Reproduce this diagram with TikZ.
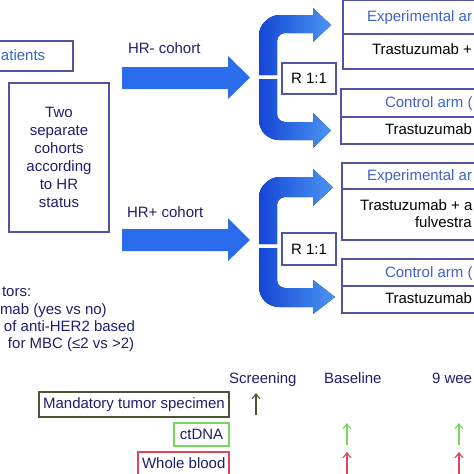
\documentclass[tikz,border=0pt]{standalone}
\usepackage{fontspec}
\setmainfont{Liberation Sans}
\usetikzlibrary{arrows.meta}
\definecolor{boxline}{HTML}{5353A3}
\definecolor{headblue}{HTML}{3F62C9}
\definecolor{navy}{HTML}{1E1E6E}
\definecolor{arrowblue}{HTML}{2A6CEB}
\definecolor{cdark}{HTML}{1446D6}
\definecolor{clight}{HTML}{4A95F2}
\definecolor{olive}{HTML}{4B5533}
\definecolor{tgreen}{HTML}{77D65C}
\definecolor{tred}{HTML}{E0455E}
\begin{document}
\begin{tikzpicture}[x=1pt,y=-1pt,
  every node/.style={inner sep=0pt,outer sep=0pt,font=\fontsize{15pt}{18pt}\selectfont},
  frame/.style={draw=boxline,line width=1.2pt},
  txt/.style={anchor=base west,text=navy},
  head/.style={anchor=base west,text=headblue},
  body/.style={anchor=base west,text=black},
  blockarrow/.style={fill=arrowblue},
  cshade/.style={left color=cdark,right color=clight},
  tick/.style={line width=1.1pt,-{Straight Barb[length=5pt,width=8pt]}}]
\useasboundingbox (0,0) rectangle (474,474);
\clip (0,0) rectangle (474,474);

% patients box (cropped)
\node[frame,anchor=north west,minimum width=80pt,minimum height=30pt] (patbox) at (-7,41) {};
\node[anchor=base west,text=headblue] (pat) at (1,60) {atients};

% two cohorts box
\node[frame,minimum width=100pt,minimum height=149pt,align=center,text=navy] (cohorts) at (59,157.5)
  {Two\\separate\\cohorts\\according\\to HR\\status};

% cohort labels
\node[txt] (hrneg) at (128,53) {HR- cohort};
\node[txt] (hrpos) at (127,217) {HR+ cohort};

% flat arrows
\fill[blockarrow] (122,67) -- (228,67) -- (228,56) -- (250,77.5) -- (228,99) -- (228,89) -- (122,89) -- cycle;
\fill[blockarrow] (122,229) -- (228,229) -- (228,218) -- (250,240) -- (228,261) -- (228,251) -- (122,251) -- cycle;

% C-shaped split arrows, HR- cohort
\fill[cshade] (259,75) -- (259,35) .. controls (259,23.96) and (270.04,15) .. (279,15) -- (313,15) -- (313,8) -- (331,25) -- (313,42) -- (313,33) -- (285,33) .. controls (280.6,33) and (277,36.6) .. (277,41) -- (277,75) -- cycle;
\fill[cshade] (259,79) -- (259,120) .. controls (259,131.04) and (267.96,140) .. (279,140) -- (313,140) -- (313,148) -- (331,130.5) -- (313,113) -- (313,122) -- (285,122) .. controls (280.6,122) and (277,118.4) .. (277,114) -- (277,79) -- cycle;
% C-shaped split arrows, HR+ cohort
\fill[cshade] (259,244) -- (259,197) .. controls (259,185.96) and (270.04,177) .. (279,177) -- (313,177) -- (313,169) -- (333,187.5) -- (313,206) -- (313,197) -- (285,197) .. controls (280.6,197) and (277,200.6) .. (277,205) -- (277,244) -- cycle;
\fill[cshade] (259,248) -- (259,287) .. controls (259,298.04) and (267.96,307) .. (279,307) -- (313,307) -- (313,314) -- (335,297) -- (313,280) -- (313,288) -- (285,288) .. controls (280.6,288) and (277,284.4) .. (277,280) -- (277,248) -- cycle;

% randomisation boxes
\node[frame,minimum width=54pt,minimum height=31pt] (r1) at (309,78.5) {R 1:1};
\node[frame,minimum width=54pt,minimum height=32pt] (r2) at (309,249) {R 1:1};

% arm boxes (cropped at right)
\node[frame,anchor=north west,minimum width=140pt,minimum height=68.5pt] (exp1) at (343,0.5) {};
\draw[frame] (343,34) -- (483,34);
\node[frame,anchor=north west,minimum width=140pt,minimum height=55pt] (ctl1) at (341,89) {};
\draw[frame] (341,117) -- (481,117);
\node[frame,anchor=north west,minimum width=140pt,minimum height=77pt] (exp2) at (342,163) {};
\draw[frame] (342,189) -- (482,189);
\node[frame,anchor=north west,minimum width=140pt,minimum height=54pt] (ctl2) at (342,259) {};
\draw[frame] (342,286) -- (482,286);

\node[head] (exp1h) at (367,21) {Experimental ar};
\node[body] (exp1t) at (372,54) {Trastuzumab +};
\node[head] (ctl1h) at (385,107) {Control arm (};
\node[body] (ctl1t) at (385,134) {Trastuzumab};
\node[head] (exp2h) at (367,180) {Experimental ar};
\node[body] (exp2t) at (360,210) {Trastuzumab + a};
\node[body] (exp2u) at (415,227) {fulvestra};
\node[head] (ctl2h) at (385,277) {Control arm (};
\node[body] (ctl2t) at (385,303) {Trastuzumab};

% stratification text (cropped)
\node[txt] (s1) at (2,296) {tors:};
\node[txt] (s2) at (0,314) {mab (yes vs no)};
\node[txt] (s3) at (4,331) {of anti-HER2 based};
\node[txt] (s4) at (8,348) {for MBC (≤2 vs >2)};

% timeline
\node[txt] (scr) at (229,383) {Screening};
\node[txt] (base) at (324,383) {Baseline};
\node[txt] (wk) at (432,383) {9 wee};

\node[draw=olive,line width=1.2pt,minimum width=190pt,minimum height=25pt,text=navy] (tumor) at (134,404.5) {Mandatory tumor specimen};
\node[draw=tgreen,line width=1.2pt,minimum width=55pt,minimum height=23pt,text=navy] (ctdna) at (201.5,434.5) {ctDNA};
\node[draw=tred,line width=1.2pt,anchor=north west,minimum width=91pt,minimum height=30pt] (blood) at (138,452) {};
\node[txt] (bloodt) at (142,468) {Whole blood};

\coordinate (a0s) at (256,415); \coordinate (a0e) at (256,393);
\coordinate (g1s) at (347,445); \coordinate (g1e) at (347,423);
\coordinate (g2s) at (459,445); \coordinate (g2e) at (459,423);
\coordinate (r1s) at (347,476); \coordinate (r1e) at (347,452);
\coordinate (r2s) at (459,476); \coordinate (r2e) at (459,452);
\draw[tick,olive] (a0s) -- (a0e);
\draw[tick,tgreen] (g1s) -- (g1e);
\draw[tick,tgreen] (g2s) -- (g2e);
\draw[tick,tred] (r1s) -- (r1e);
\draw[tick,tred] (r2s) -- (r2e);
\end{tikzpicture}
\end{document}
